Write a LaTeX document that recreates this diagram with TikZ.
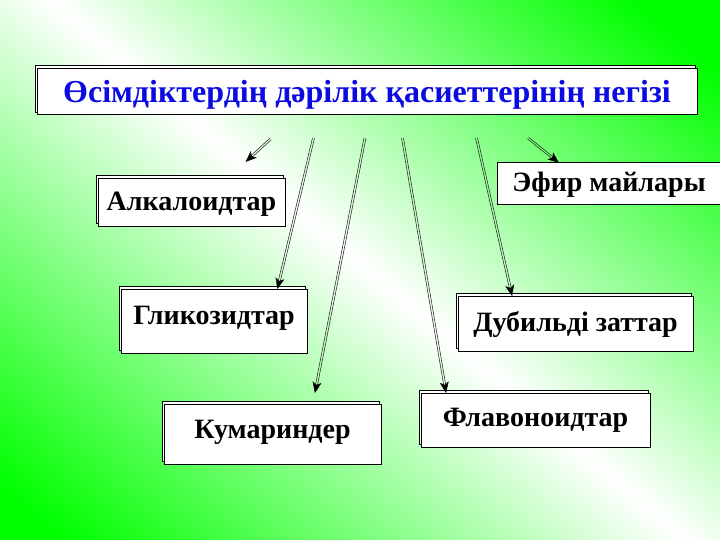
\documentclass[tikz,border=0pt]{standalone}
\usepackage{fontspec}
\setmainfont{Liberation Serif}
\usetikzlibrary{shadows,calc}
\definecolor{titleblue}{RGB}{10,10,225}
\tikzset{
  box/.style={draw=black, line width=0.8pt, fill=white, inner sep=0pt,
    font=\fontsize{28}{30}\selectfont\bfseries, text height=18pt, text depth=1pt,
    copy shadow={shadow xshift=-2pt, shadow yshift=2.5pt}},
  plainbox/.style={draw=black, line width=0.8pt, fill=white, inner sep=0pt,
    font=\fontsize{28}{30}\selectfont\bfseries, text height=18pt, text depth=1pt},
  twin/.style={draw=black!85, line width=0.55pt, shorten >=5pt},
  headfill/.style={fill=black, draw=black, line width=0.4pt, line join=miter}
}
\newcommand\twinarrow[2]{%
  \draw[twin] ($(#1)!1pt!90:(#2)$) -- ($(#2)!1pt!-90:(#1)$);
  \draw[twin] ($(#1)!1pt!-90:(#2)$) -- ($(#2)!1pt!90:(#1)$);
  \filldraw[headfill] (#2) -- ($(#2)!10.8pt!22:(#1)$) -- ($(#2)!7.5pt!(#1)$) -- ($(#2)!10.8pt!-22:(#1)$) -- cycle;}
\begin{document}
\begin{tikzpicture}[x=1pt,y=-1pt]
\useasboundingbox (0,0) rectangle (720,540);
% background gradient
\begin{scope}
\clip (0,0) rectangle (720,540);
\foreach \s in {-680,-676,...,760}{
  \pgfmathsetmacro\pct{100*((\s+2<50) ? min(1,(48-\s)/620) : min(1,(\s-48)/580))}
  \fill[green!\pct!white] (\s-23.6,-20) -- (\s+660.8,560) -- (\s+665.4,560) -- (\s-19,-20) -- cycle;
}
\end{scope}
% boxes
\node[box, text=titleblue, font=\fontsize{32}{34}\selectfont\bfseries, minimum width=660pt, minimum height=46.5pt, text height=23pt, text depth=0pt] (title) at (367,91.3) {Өсімдіктердің дәрілік қасиеттерінің негізі};
\node[box, minimum width=187pt, minimum height=48pt] (alk) at (191.5,202) {Алкалоидтар};
\node[plainbox, minimum width=224pt, minimum height=42pt] (efir) at (609,183) {Эфир майлары};
\node[box, minimum width=186pt, minimum height=64pt, text depth=11pt] (glik) at (214,321) {Гликозидтар};
\node[box, minimum width=235pt, minimum height=55pt, text depth=2pt] (dub) at (575.5,323.5) {Дубильді заттар};
\node[box, minimum width=217pt, minimum height=60pt, text depth=9pt] (kum) at (272.5,434) {Кумариндер};
\node[box, minimum width=229pt, minimum height=54pt, text depth=5pt] (flav) at (535.5,420) {Флавоноидтар};
% connectors
\coordinate (s1) at (270.5,139);  \coordinate (e1) at (246,161.5);
\coordinate (s2) at (313.5,138);  \coordinate (e2) at (277.5,288.5);
\coordinate (s3) at (365,138);    \coordinate (e3) at (315,392.5);
\coordinate (s4) at (402.5,138);  \coordinate (e4) at (446,392.5);
\coordinate (s5) at (476.5,138);  \coordinate (e5) at (512,295.5);
\coordinate (s6) at (528,138);    \coordinate (e6) at (558.5,162.5);
\twinarrow{s1}{e1}
\twinarrow{s2}{e2}
\twinarrow{s3}{e3}
\twinarrow{s4}{e4}
\twinarrow{s5}{e5}
\twinarrow{s6}{e6}
\end{tikzpicture}
\end{document}
